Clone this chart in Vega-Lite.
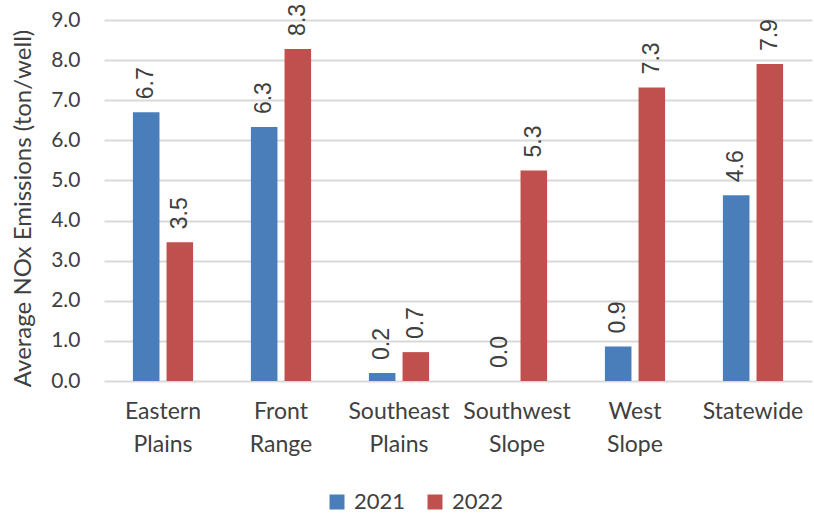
{
  "$schema": "https://vega.github.io/schema/vega-lite/v6.json",
  "width": 708,
  "height": 361,
  "autosize": {"type": "none"},
  "padding": {"left": 104, "top": 20, "right": 2, "bottom": 133},
  "background": "white",
  "data": {
    "values": [
      {"region": "Eastern Plains", "year": "2021", "value": 6.7},
      {"region": "Eastern Plains", "year": "2022", "value": 3.46},
      {"region": "Front Range", "year": "2021", "value": 6.33},
      {"region": "Front Range", "year": "2022", "value": 8.28},
      {"region": "Southeast Plains", "year": "2021", "value": 0.2},
      {"region": "Southeast Plains", "year": "2022", "value": 0.72},
      {"region": "Southwest Slope", "year": "2021", "value": 0.0},
      {"region": "Southwest Slope", "year": "2022", "value": 5.25},
      {"region": "West Slope", "year": "2021", "value": 0.86},
      {"region": "West Slope", "year": "2022", "value": 7.32},
      {"region": "Statewide", "year": "2021", "value": 4.63},
      {"region": "Statewide", "year": "2022", "value": 7.9}
    ]
  },
  "config": {
    "view": {"stroke": null},
    "font": "Lato"
  },
  "encoding": {
    "x": {
      "field": "region",
      "type": "nominal",
      "sort": null,
      "scale": {"paddingInner": 0.49, "paddingOuter": 0.245},
      "axis": {
        "title": null,
        "labelAngle": 0,
        "labelExpr": "split(datum.label, ' ')",
        "labelFont": "Lato",
        "labelFontSize": 23,
        "labelColor": "#404040",
        "labelLineHeight": 33,
        "labelPadding": 19,
        "ticks": false,
        "domain": false,
        "grid": false
      }
    },
    "xOffset": {
      "field": "year",
      "type": "nominal",
      "scale": {"paddingInner": 0.21, "paddingOuter": 0}
    },
    "y": {
      "field": "value",
      "type": "quantitative",
      "scale": {"domain": [0, 9], "nice": false},
      "axis": {
        "title": "Average NOx Emissions (ton/well)",
        "titleFont": "Lato",
        "titleFontSize": 24,
        "titleFontWeight": "normal",
        "titleColor": "#404040",
        "titleX": -81,
        "titleY": 188,
        "titleAngle": 270,
        "titleAlign": "center",
        "titleBaseline": "middle",
        "values": [0, 1, 2, 3, 4, 5, 6, 7, 8, 9],
        "format": ".1f",
        "labelFont": "Lato",
        "labelFontSize": 21,
        "labelColor": "#404040",
        "labelPadding": 24,
        "ticks": false,
        "domain": false,
        "gridColor": "#d9d9d9",
        "gridWidth": 2
      }
    }
  },
  "layer": [
    {
      "mark": {"type": "bar"},
      "encoding": {
        "color": {
          "field": "year",
          "type": "nominal",
          "scale": {"domain": ["2021", "2022"], "range": ["#4a7ebb", "#c0504d"]},
          "legend": {
            "title": null,
            "orient": "none",
            "direction": "horizontal",
            "legendX": 222,
            "legendY": 471,
            "symbolType": "square",
            "symbolSize": 225,
            "symbolStrokeWidth": 0,
            "symbolOpacity": 1,
            "labelFont": "Lato",
            "labelFontSize": 22,
            "labelColor": "#404040",
            "labelOffset": 6,
            "columnPadding": 18
          }
        }
      }
    },
    {
      "mark": {
        "type": "text",
        "angle": 270,
        "align": "left",
        "baseline": "middle",
        "dx": 13,
        "font": "Liberation Sans",
        "fontSize": 23,
        "color": "#404040"
      },
      "encoding": {
        "text": {"field": "value", "type": "quantitative", "format": ".1f"}
      }
    }
  ]
}
